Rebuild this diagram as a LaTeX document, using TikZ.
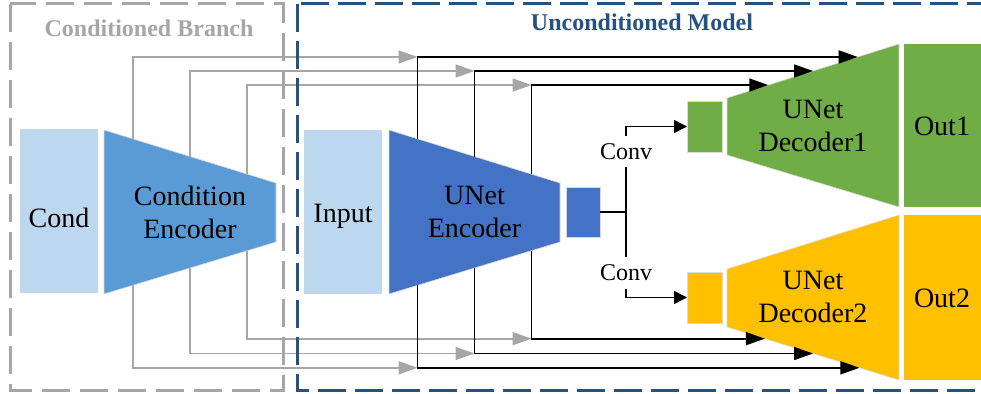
\documentclass[tikz,border=0pt]{standalone}
\usepackage{fontspec}
\setmainfont{Liberation Serif}
\usetikzlibrary{arrows.meta,calc}

\definecolor{lightblue}{HTML}{BDD7EE}
\definecolor{condblue}{HTML}{5B9BD5}
\definecolor{encblue}{HTML}{4472C4}
\definecolor{decgreen}{HTML}{70AD47}
\definecolor{decyellow}{HTML}{FFC000}
\definecolor{skipgray}{HTML}{A6A6A6}
\definecolor{modelblue}{RGB}{38,82,128}

\begin{document}
\begin{tikzpicture}[x=1pt,y=-1pt,
    blk/.style={inner sep=0pt,outer sep=0pt},
    rim/.style={draw=black!15,line width=0.6pt},
    lbl/.style={font=\fontsize{28}{33}\selectfont,align=center,inner sep=0pt},
    convlbl/.style={font=\fontsize{24}{28}\selectfont,inner xsep=2pt,inner ysep=7.5pt},
    boxtitle/.style={font=\fontsize{24}{28}\selectfont\bfseries,inner sep=0pt},
    skiparrow/.style={line width=1.7pt,-{Triangle[length=19pt,width=13pt]}},
    convarrow/.style={line width=1.7pt,-{Triangle[length=13pt,width=13pt]}}]

  \path[use as bounding box,clip] (0,0) rectangle (981,393);

  \node[blk,fill=lightblue,minimum width=78pt,minimum height=164pt] (cond) at (59,211) {};
  \node[blk,fill=lightblue,minimum width=78pt,minimum height=164pt] (input) at (343,212) {};
  \path[fill=condblue,rim] (104,130) coordinate (ce-tl) -- (276,183) coordinate (ce-tr)
    -- (276,242) coordinate (ce-br) -- (104,294) coordinate (ce-bl) -- cycle;
  \path[fill=encblue,rim] (389,130) coordinate (ue-tl) -- (560,183) coordinate (ue-tr)
    -- (560,242) coordinate (ue-br) -- (389,294) coordinate (ue-bl) -- cycle;
  \node[blk,fill=encblue,rim,minimum width=34pt,minimum height=50pt] (esq) at (583,212) {};
  \node[blk,fill=decgreen,rim,minimum width=35pt,minimum height=51pt] (gsq) at (704.5,126.5) {};
  \node[blk,fill=decyellow,rim,minimum width=35pt,minimum height=51pt] (ysq) at (704.5,297.5) {};
  \path[fill=decgreen,rim] (727,98) coordinate (d1-tl) -- (899,44) coordinate (d1-tr)
    -- (899,207) coordinate (d1-br) -- (727,155) coordinate (d1-bl) -- cycle;
  \path[fill=decyellow,rim] (727,269) coordinate (d2-tl) -- (899,215) coordinate (d2-tr)
    -- (899,380) coordinate (d2-br) -- (727,327) coordinate (d2-bl) -- cycle;
  \node[blk,fill=decgreen,minimum width=80pt,minimum height=163pt,anchor=north west] (out1) at (904,44) {};
  \node[blk,fill=decyellow,minimum width=80pt,minimum height=165pt,anchor=north west] (out2) at (904,215) {};

  \node[lbl] (condtxt) at (59,217.5) {Cond};
  \node[lbl] (cetxt) at (190,212.5) {Condition\\Encoder};
  \node[lbl,anchor=base] (inputtxt) at (343,222) {Input};
  \node[lbl] (uetxt) at (474.5,212) {UNet\\Encoder};
  \node[lbl] (d1txt) at (813,126) {UNet\\Decoder1};
  \node[lbl] (d2txt) at (813,297) {UNet\\Decoder2};
  \node[lbl] (out1txt) at (942,126) {Out1};
  \node[lbl] (out2txt) at (942,298) {Out2};

  \coordinate (split) at (626,212);
  \node[convlbl] (conv1) at (626,151.5) {Conv};
  \node[convlbl] (conv2) at (626,273) {Conv};
  \draw[line width=1.7pt] (esq.east) -- (split);
  \draw[line width=1.7pt] (conv1.south) -- (conv2.north);
  \draw[convarrow] (conv1.north) |- (gsq.west);
  \draw[convarrow] (conv2.south) |- (ysq.west);

  \coordinate (ct1) at ($(ce-tl)!1/6!(ce-tr)$);
  \coordinate (ct2) at ($(ce-tl)!1/2!(ce-tr)$);
  \coordinate (ct3) at ($(ce-tl)!5/6!(ce-tr)$);
  \coordinate (cb1) at ($(ce-bl)!1/6!(ce-br)$);
  \coordinate (cb2) at ($(ce-bl)!1/2!(ce-br)$);
  \coordinate (cb3) at ($(ce-bl)!5/6!(ce-br)$);
  \coordinate (ut1) at ($(ue-tl)!1/6!(ue-tr)$);
  \coordinate (ut2) at ($(ue-tl)!1/2!(ue-tr)$);
  \coordinate (ut3) at ($(ue-tl)!5/6!(ue-tr)$);
  \coordinate (ub1) at ($(ue-bl)!1/6!(ue-br)$);
  \coordinate (ub2) at ($(ue-bl)!1/2!(ue-br)$);
  \coordinate (ub3) at ($(ue-bl)!5/6!(ue-br)$);
  \coordinate (dt1) at ($(d1-tl)!0.76!(d1-tr)$);
  \coordinate (dt2) at ($(d1-tl)!0.5!(d1-tr)$);
  \coordinate (dt3) at ($(d1-tl)!0.24!(d1-tr)$);
  \coordinate (db1) at ($(d2-bl)!0.77!(d2-br)$);
  \coordinate (db2) at ($(d2-bl)!0.5!(d2-br)$);
  \coordinate (db3) at ($(d2-bl)!0.22!(d2-br)$);

  \draw[skiparrow,skipgray] (ct1) |- (ut1 |- dt1);
  \draw[skiparrow,skipgray] (ct2) |- (ut2 |- dt2);
  \draw[skiparrow,skipgray] (ct3) |- (ut3 |- dt3);
  \draw[skiparrow,skipgray] (cb1) |- (ub1 |- db1);
  \draw[skiparrow,skipgray] (cb2) |- (ub2 |- db2);
  \draw[skiparrow,skipgray] (cb3) |- (ub3 |- db3);
  \draw[skiparrow] (ut1) |- (dt1);
  \draw[skiparrow] (ut2) |- (dt2);
  \draw[skiparrow] (ut3) |- (dt3);
  \draw[skiparrow] (ub1) |- (db1);
  \draw[skiparrow] (ub2) |- (db2);
  \draw[skiparrow] (ub3) |- (db3);

  \node[boxtitle,text=skipgray] (condtitle) at (149,28) {Conditioned Branch};
  \node[boxtitle,text=modelblue] (modeltitle) at (642,22.5) {Unconditioned Model};
  \draw[skipgray,line width=3pt,dash pattern=on 28pt off 10pt] (10,4) rectangle (283,390);
  \draw[modelblue,line width=3pt,dash pattern=on 28pt off 9pt] (297,4) rectangle (1000,390);
\end{tikzpicture}
\end{document}
